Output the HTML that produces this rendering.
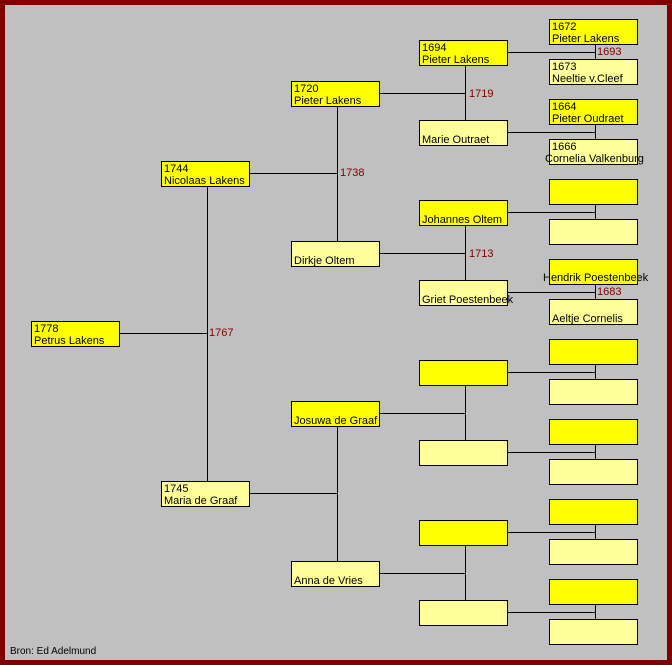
<!DOCTYPE html>
<html><head><meta charset="utf-8"><style>
body{margin:0;width:672px;height:665px;overflow:hidden}
#f{position:absolute;left:0;top:0;width:662px;height:655px;border:5px solid #800000;background:#c0c0c0;font-family:"Liberation Sans",Arial,sans-serif;font-size:11px}
.b{position:absolute;width:87px;height:24px;border:1px solid #000;background:#ffff00;box-sizing:content-box}
.v{background:#ffff99}
.b div{position:absolute;left:2px;line-height:12px;white-space:nowrap}
.l{position:absolute;background:#000}
.y{position:absolute;color:#800000;font-size:11px;line-height:12px}
</style></head><body><div id="f"></div>
<div style="position:absolute;left:0;top:0;font-family:'Liberation Sans',Arial,sans-serif;font-size:11px">
<div class="l" style="left:119px;top:333px;width:88px;height:1px"></div>
<div class="l" style="left:207px;top:186px;width:1px;height:295px"></div>
<div class="l" style="left:249px;top:173px;width:88px;height:1px"></div>
<div class="l" style="left:337px;top:106px;width:1px;height:135px"></div>
<div class="l" style="left:249px;top:493px;width:88px;height:1px"></div>
<div class="l" style="left:337px;top:426px;width:1px;height:135px"></div>
<div class="l" style="left:379px;top:93px;width:86px;height:1px"></div>
<div class="l" style="left:465px;top:65px;width:1px;height:55px"></div>
<div class="l" style="left:379px;top:253px;width:86px;height:1px"></div>
<div class="l" style="left:465px;top:225px;width:1px;height:55px"></div>
<div class="l" style="left:379px;top:413px;width:86px;height:1px"></div>
<div class="l" style="left:465px;top:385px;width:1px;height:55px"></div>
<div class="l" style="left:379px;top:573px;width:86px;height:1px"></div>
<div class="l" style="left:465px;top:545px;width:1px;height:55px"></div>
<div class="l" style="left:507px;top:52px;width:88px;height:1px"></div><div class="l" style="left:595px;top:44px;width:1px;height:15px"></div>
<div class="l" style="left:507px;top:132px;width:88px;height:1px"></div><div class="l" style="left:595px;top:124px;width:1px;height:15px"></div>
<div class="l" style="left:507px;top:212px;width:88px;height:1px"></div><div class="l" style="left:595px;top:204px;width:1px;height:15px"></div>
<div class="l" style="left:507px;top:292px;width:88px;height:1px"></div><div class="l" style="left:595px;top:284px;width:1px;height:15px"></div>
<div class="l" style="left:507px;top:372px;width:88px;height:1px"></div><div class="l" style="left:595px;top:364px;width:1px;height:15px"></div>
<div class="l" style="left:507px;top:452px;width:88px;height:1px"></div><div class="l" style="left:595px;top:444px;width:1px;height:15px"></div>
<div class="l" style="left:507px;top:532px;width:88px;height:1px"></div><div class="l" style="left:595px;top:524px;width:1px;height:15px"></div>
<div class="l" style="left:507px;top:612px;width:88px;height:1px"></div><div class="l" style="left:595px;top:604px;width:1px;height:15px"></div>
<div class="y" style="left:209px;top:327px">1767</div>
<div class="y" style="left:340px;top:167px">1738</div>
<div class="y" style="left:469px;top:88px">1719</div>
<div class="y" style="left:469px;top:248px">1713</div>
<div class="y" style="left:597px;top:46px">1693</div>
<div class="y" style="left:597px;top:286px">1683</div>
<div class="b" style="left:31px;top:321px"><div style="top:1px">1778</div><div style="top:13px">Petrus Lakens</div></div>
<div class="b" style="left:161px;top:161px"><div style="top:1px">1744</div><div style="top:13px">Nicolaas Lakens</div></div>
<div class="b v" style="left:161px;top:481px"><div style="top:1px">1745</div><div style="top:13px">Maria de Graaf</div></div>
<div class="b" style="left:291px;top:81px"><div style="top:1px">1720</div><div style="top:13px">Pieter Lakens</div></div>
<div class="b v" style="left:291px;top:241px"><div style="top:13px">Dirkje Oltem</div></div>
<div class="b" style="left:291px;top:401px"><div style="top:13px">Josuwa de Graaf</div></div>
<div class="b v" style="left:291px;top:561px"><div style="top:13px">Anna de Vries</div></div>
<div class="b" style="left:419px;top:40px"><div style="top:1px">1694</div><div style="top:13px">Pieter Lakens</div></div>
<div class="b v" style="left:419px;top:120px"><div style="top:13px">Marie Outraet</div></div>
<div class="b" style="left:419px;top:200px"><div style="top:13px">Johannes Oltem</div></div>
<div class="b v" style="left:419px;top:280px"><div style="top:13px">Griet Poestenbeek</div></div>
<div class="b" style="left:419px;top:360px"></div>
<div class="b v" style="left:419px;top:440px"></div>
<div class="b" style="left:419px;top:520px"></div>
<div class="b v" style="left:419px;top:600px"></div>
<div class="b" style="left:549px;top:19px"><div style="top:1px">1672</div><div style="top:13px">Pieter Lakens</div></div>
<div class="b v" style="left:549px;top:59px"><div style="top:1px">1673</div><div style="top:13px">Neeltie v.Cleef</div></div>
<div class="b" style="left:549px;top:99px"><div style="top:1px">1664</div><div style="top:13px">Pieter Oudraet</div></div>
<div class="b v" style="left:549px;top:139px"><div style="top:1px">1666</div><div style="top:13px;left:-5px">Cornelia Valkenburg</div></div>
<div class="b" style="left:549px;top:179px"></div>
<div class="b v" style="left:549px;top:219px"></div>
<div class="b" style="left:549px;top:259px"><div style="top:12px;left:-7px">Hendrik Poestenbeek</div></div>
<div class="b v" style="left:549px;top:299px"><div style="top:13px">Aeltje Cornelis</div></div>
<div class="b" style="left:549px;top:339px"></div>
<div class="b v" style="left:549px;top:379px"></div>
<div class="b" style="left:549px;top:419px"></div>
<div class="b v" style="left:549px;top:459px"></div>
<div class="b" style="left:549px;top:499px"></div>
<div class="b v" style="left:549px;top:539px"></div>
<div class="b" style="left:549px;top:579px"></div>
<div class="b v" style="left:549px;top:619px"></div>
<div style="position:absolute;left:10px;top:646px;font-size:10px;white-space:nowrap">Bron: Ed Adelmund</div>
</div>
</body></html>
